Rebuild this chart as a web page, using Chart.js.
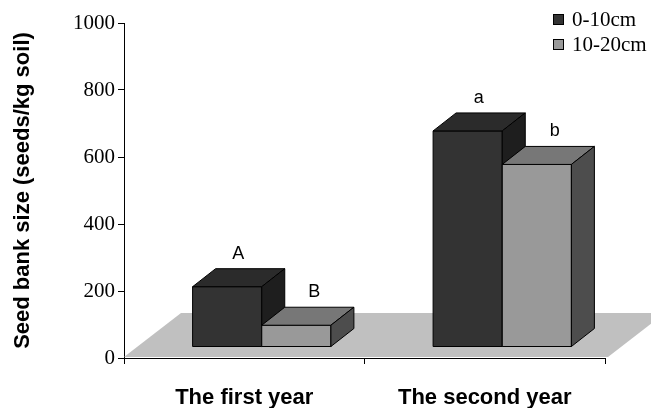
<!DOCTYPE html>
<html>
<head>
<meta charset="utf-8">
<script src="https://cdn.jsdelivr.net/npm/chart.js@4"></script>
<style>
  body { margin: 0; background: #fff; }
  #wrap { width: 651px; height: 408px; }
</style>
</head>
<body>
<div id="wrap"><canvas id="seedChart"></canvas></div>
<script>
const categories = ['The first year', 'The second year'];
const seriesLabels = ['0-10cm', '10-20cm'];
const shallowValues = [180, 645];
const deepValues = [65, 545];
const shallowLetters = ['A', 'a'];
const deepLetters = ['B', 'b'];
const yTickValues = [0, 200, 400, 600, 800, 1000];

const frontColors = ['#333333', '#999999'];
const topColors = ['#2b2b2b', '#777777'];
const sideColors = ['#1e1e1e', '#4d4d4d'];
const letters = [shallowLetters, deepLetters];
const letterShift = [11, 18];

// bars sit inside the floor, so shift them back a bit
const SHIFT_X = 17.5, SHIFT_Y = -11;
// depth of each box
const DX = 23, DY = -18;

function poly(ctx, pts, fill) {
    ctx.beginPath();
    ctx.moveTo(pts[0][0], pts[0][1]);
    for (let i = 1; i < pts.length; i++) ctx.lineTo(pts[i][0], pts[i][1]);
    ctx.closePath();
    ctx.fillStyle = fill;
    ctx.fill();
    ctx.strokeStyle = '#000';
    ctx.lineWidth = 1;
    ctx.stroke();
}

const floorPlugin = {
    id: 'floor',
    beforeDatasetsDraw(chart) {
        const ctx = chart.ctx;
        const x = chart.scales.x, y = chart.scales.y;
        const y0 = y.getPixelForValue(0) - 1;
        ctx.save();
        ctx.beginPath();
        ctx.moveTo(x.left, y0);
        ctx.lineTo(x.right + 3, y0);
        ctx.lineTo(x.right + 60, y0 - 44);
        ctx.lineTo(x.left + 57, y0 - 44);
        ctx.closePath();
        ctx.fillStyle = '#c0c0c0';
        ctx.fill();
        ctx.restore();
    }
};

// the library lays the bars out; the boxes are painted here in series order
const boxPlugin = {
    id: 'box3d',
    afterDatasetsDraw(chart) {
        const ctx = chart.ctx;
        ctx.save();
        ctx.translate(SHIFT_X, SHIFT_Y);
        chart.data.datasets.forEach((ds, i) => {
            chart.getDatasetMeta(i).data.forEach((bar, j) => {
                const p = bar.getProps(['x', 'y', 'base', 'width'], true);
                const l = p.x - p.width / 2, r = p.x + p.width / 2;
                poly(ctx, [[l, p.y], [r, p.y], [r, p.base], [l, p.base]], frontColors[i]);
                poly(ctx, [[l, p.y], [r, p.y], [r + DX, p.y + DY], [l + DX, p.y + DY]], topColors[i]);
                poly(ctx, [[r, p.y], [r + DX, p.y + DY], [r + DX, p.base + DY], [r, p.base]], sideColors[i]);
                ctx.fillStyle = '#000';
                ctx.font = '18px "Liberation Sans", Arial, sans-serif';
                ctx.textAlign = 'center';
                ctx.textBaseline = 'alphabetic';
                ctx.fillText(letters[i][j], p.x + letterShift[i], p.y - 28);
            });
        });
        ctx.restore();
    }
};

const legendPlugin = {
    id: 'boxLegend',
    afterDraw(chart) {
        const ctx = chart.ctx;
        ctx.save();
        chart.data.datasets.forEach((ds, i) => {
            const top = 14 + i * 25;
            ctx.fillStyle = frontColors[i];
            ctx.fillRect(553, top, 11, 11);
            ctx.strokeStyle = '#000';
            ctx.lineWidth = 1;
            ctx.strokeRect(553.5, top + 0.5, 10, 10);
            ctx.fillStyle = '#000';
            ctx.font = '21px "Liberation Serif", "Times New Roman", serif';
            ctx.textAlign = 'left';
            ctx.textBaseline = 'middle';
            ctx.fillText(ds.label, 572, top + 6);
        });
        ctx.restore();
    }
};

new Chart(document.getElementById('seedChart'), {
    type: 'bar',
    data: {
        labels: categories,
        datasets: [
            {
                label: seriesLabels[0],
                data: shallowValues,
                backgroundColor: 'rgba(0,0,0,0)',
                borderWidth: 0
            },
            {
                label: seriesLabels[1],
                data: deepValues,
                backgroundColor: 'rgba(0,0,0,0)',
                borderWidth: 0
            }
        ]
    },
    options: {
        responsive: true,
        maintainAspectRatio: false,
        animation: false,
        layout: { padding: { top: 23, right: 46, left: 0, bottom: 0 } },
        datasets: { bar: { categoryPercentage: 0.575, barPercentage: 1 } },
        plugins: {
            legend: { display: false },
            tooltip: { enabled: false }
        },
        scales: {
            x: {
                z: 1,
                grid: { drawOnChartArea: false, color: '#000', tickLength: 6, offset: true },
                border: { color: '#000', width: 1 },
                ticks: {
                    color: '#000',
                    padding: 21,
                    font: { family: '"Liberation Sans", Arial, sans-serif', size: 22, weight: 'bold' }
                },
                afterFit(scale) { scale.height = 50; }
            },
            y: {
                z: 1,
                min: 0,
                max: 1000,
                afterBuildTicks(scale) { scale.ticks = yTickValues.map(v => ({ value: v })); },
                grid: { drawOnChartArea: false, color: '#000', tickLength: 6 },
                border: { color: '#000', width: 1 },
                ticks: {
                    color: '#000',
                    padding: 3,
                    callback: v => String(v),
                    font: { family: '"Liberation Serif", "Times New Roman", serif', size: 21 }
                },
                title: {
                    display: true,
                    text: 'Seed bank size (seeds/kg soil)',
                    color: '#000',
                    padding: { top: 10, bottom: 0 },
                    font: { family: '"Liberation Sans", Arial, sans-serif', size: 22, weight: 'bold' }
                },
                afterFit(scale) { scale.width = 124; }
            }
        }
    },
    plugins: [floorPlugin, boxPlugin, legendPlugin]
});
</script>
</body>
</html>
